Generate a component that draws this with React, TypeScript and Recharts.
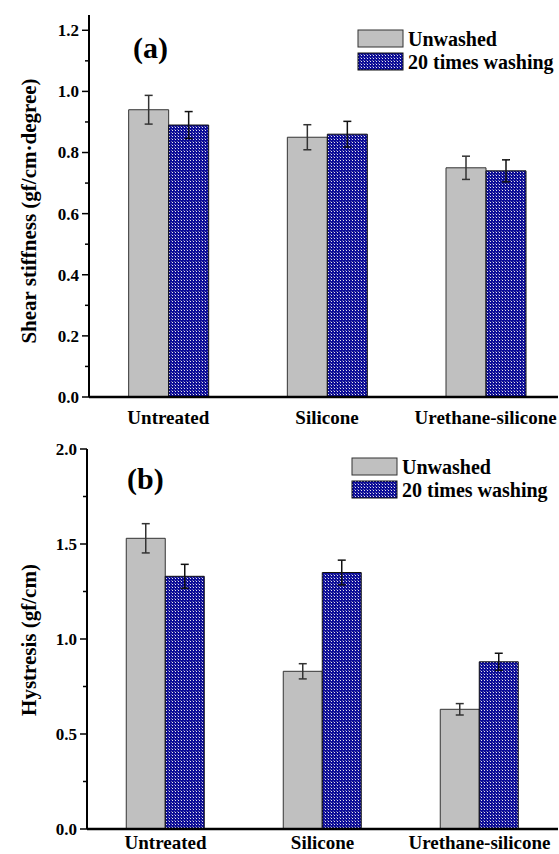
import React from 'react';
import { BarChart, Bar, XAxis, YAxis, ErrorBar } from 'recharts';

// Fabric treatments compared in both panels
const categories = ['Untreated', 'Silicone', 'Urethane-silicone'];

// (a) Shear stiffness, gf/cm·degree
const shearUnwashed = [0.94, 0.85, 0.75];
const shearUnwashedErr = [0.047, 0.041, 0.038];
const shearWashed = [0.89, 0.86, 0.74];
const shearWashedErr = [0.044, 0.042, 0.036];
const shearTicks = [0, 0.1, 0.2, 0.3, 0.4, 0.5, 0.6, 0.7, 0.8, 0.9, 1.0, 1.1, 1.2];

// (b) Hysteresis, gf/cm
const hystUnwashed = [1.53, 0.83, 0.63];
const hystUnwashedErr = [0.077, 0.04, 0.03];
const hystWashed = [1.33, 1.35, 0.88];
const hystWashedErr = [0.063, 0.065, 0.045];
const hystTicks = [0, 0.25, 0.5, 0.75, 1.0, 1.25, 1.5, 1.75, 2.0];

const seriesNames = ['Unwashed', '20 times washing'];

const FONT = '"Liberation Serif", "Times New Roman", serif';
const GRAY = '#c0c0c0';
const textStyle = (size: number): React.CSSProperties => ({
  fontFamily: FONT,
  fontWeight: 700,
  fontSize: size,
});

const buildRows = (u: number[], ue: number[], w: number[], we: number[]) =>
  categories.map((name, i) => ({
    name,
    unwashed: u[i],
    unwashedErr: ue[i],
    washed: w[i],
    washedErr: we[i],
  }));

const shearRows = buildRows(shearUnwashed, shearUnwashedErr, shearWashed, shearWashedErr);
const hystRows = buildRows(hystUnwashed, hystUnwashedErr, hystWashed, hystWashedErr);

// Left-axis tick: long tick + label for major values, short tick for minor ones
const makeYTick = (step: number) => (props: any) => {
  const { x, y, payload } = props;
  const v = payload.value as number;
  const major = Math.abs(v / step - Math.round(v / step)) < 1e-6;
  return (
    <g>
      <line x1={x} x2={x - (major ? 7 : 4)} y1={y} y2={y} stroke="#000" strokeWidth={1.5} />
      {major && (
        <text x={x - 10} y={y} dy="0.35em" textAnchor="end" fill="#000" style={textStyle(17)}>
          {v.toFixed(1)}
        </text>
      )}
    </g>
  );
};

const makeXTick = (offset: number) => (props: any) => {
  const { x, y, payload } = props;
  return (
    <text x={x} y={y + offset} textAnchor="middle" fill="#000" style={textStyle(19)}>
      {payload.value}
    </text>
  );
};

type PanelProps = {
  rows: any[];
  height: number;
  top: number;
  axisWidth: number;
  xAxisHeight: number;
  yMax: number;
  ticks: number[];
  step: number;
  labelOffset: number;
  padRight: number;
};

const Panel = ({ rows, height, top, axisWidth, xAxisHeight, yMax, ticks, step, labelOffset, padRight }: PanelProps) => (
  <BarChart
    width={559}
    height={height}
    data={rows}
    margin={{ top, right: 1, bottom: 0, left: 0 }}
    barGap={0}
    barCategoryGap="25%"
  >
    <XAxis
      dataKey="name"
      height={xAxisHeight}
      tickLine={false}
      tickSize={0}
      tickMargin={0}
      tick={makeXTick(labelOffset)}
      axisLine={{ stroke: '#000', strokeWidth: 2.5 }}
      padding={{ left: 0, right: padRight }}
      interval={0}
    />
    <XAxis
      xAxisId="top"
      dataKey="name"
      orientation="top"
      height={0}
      tick={false}
      tickLine={false}
      axisLine={{ stroke: '#000', strokeWidth: 2 }}
    />
    <YAxis
      width={axisWidth}
      domain={[0, yMax]}
      ticks={ticks}
      interval={0}
      allowDataOverflow
      tickLine={false}
      tickSize={0}
      tickMargin={0}
      tick={makeYTick(step)}
      axisLine={{ stroke: '#000', strokeWidth: 2 }}
    />
    <YAxis
      yAxisId="right"
      orientation="right"
      width={0}
      domain={[0, yMax]}
      tick={false}
      tickLine={false}
      axisLine={{ stroke: '#000', strokeWidth: 2 }}
    />
    <Bar dataKey="unwashed" name={seriesNames[0]} fill={GRAY} stroke="#333" strokeWidth={1} isAnimationActive={false}>
      <ErrorBar dataKey="unwashedErr" width={4} stroke="#333" strokeWidth={1.5} isAnimationActive={false} />
    </Bar>
    <Bar dataKey="washed" name={seriesNames[1]} fill="url(#washPattern)" stroke="#111" strokeWidth={1} isAnimationActive={false}>
      <ErrorBar dataKey="washedErr" width={4} stroke="#111" strokeWidth={1.5} isAnimationActive={false} />
    </Bar>
  </BarChart>
);

const LegendBox = ({ x, y }: { x: number; y: number }) => (
  <g>
    <rect x={x} y={y} width={45} height={17} fill={GRAY} stroke="#333" strokeWidth={1} />
    <rect x={x} y={y + 23} width={45} height={17} fill="url(#washPattern)" stroke="#111" strokeWidth={1} />
    <text x={x + 50} y={y + 16} fill="#000" style={textStyle(20)}>{seriesNames[0]}</text>
    <text x={x + 50} y={y + 39} fill="#000" style={textStyle(20)}>{seriesNames[1]}</text>
  </g>
);

export default function App() {
  return (
    <div style={{ position: 'absolute', left: 0, top: 0, width: 559, height: 854, background: '#fff' }}>
      <svg width={0} height={0} style={{ position: 'absolute' }}>
        <defs>
          <pattern id="washPattern" width={3} height={3} patternUnits="userSpaceOnUse">
            <rect width={3} height={3} fill="#0c0c98" />
            <rect x={1} y={1} width={1} height={1} fill="#e4e4ee" />
            <rect x={0} y={0} width={1} height={1} fill="#6a6aa8" />
          </pattern>
        </defs>
      </svg>
      <div style={{ position: 'absolute', left: 0, top: 0 }}>
        <Panel
          rows={shearRows}
          height={430}
          top={15}
          axisWidth={89}
          xAxisHeight={33}
          yMax={1.25}
          ticks={shearTicks}
          step={0.2}
          labelOffset={27}
          padRight={-7}
        />
      </div>
      <div style={{ position: 'absolute', left: 0, top: 430 }}>
        <Panel
          rows={hystRows}
          height={424}
          top={19}
          axisWidth={87}
          xAxisHeight={25}
          yMax={2.0}
          ticks={hystTicks}
          step={0.5}
          labelOffset={20}
          padRight={0}
        />
      </div>
      <svg width={559} height={854} style={{ position: 'absolute', left: 0, top: 0, pointerEvents: 'none' }}>
        <text x={133} y={58} fill="#000" style={textStyle(30)}>(a)</text>
        <text x={127} y={489} fill="#000" style={textStyle(30)}>(b)</text>
        <text
          x={29}
          y={211}
          fill="#000"
          style={textStyle(21)}
          textAnchor="middle"
          dominantBaseline="central"
          transform="rotate(-90 29 211)"
        >
          Shear stiffness (gf/cm·degree)
        </text>
        <text
          x={29}
          y={640}
          fill="#000"
          style={textStyle(21)}
          textAnchor="middle"
          dominantBaseline="central"
          transform="rotate(-90 29 640)"
        >
          Hystresis (gf/cm)
        </text>
        <LegendBox x={358} y={30} />
        <LegendBox x={352} y={458} />
      </svg>
    </div>
  );
}
